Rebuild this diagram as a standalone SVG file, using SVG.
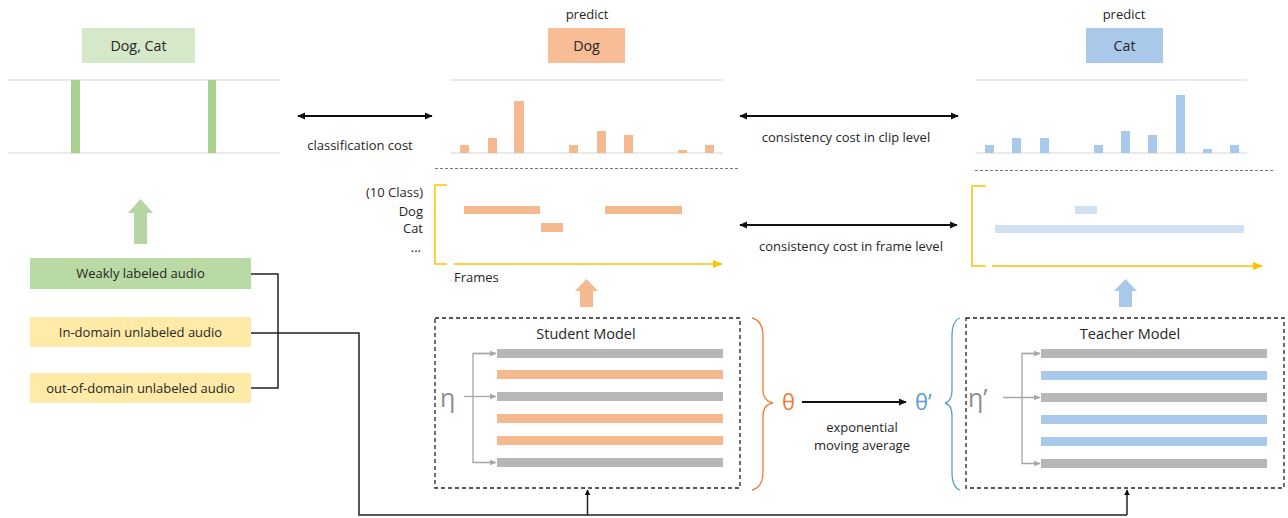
<svg xmlns="http://www.w3.org/2000/svg" width="1288" height="518" viewBox="0 0 1288 518">
<style>
text{font-family:"Open Sans","Noto Sans","DejaVu Sans",sans-serif;fill:#262626;font-size:13px}
.c{text-anchor:middle}
.r{text-anchor:end}
.lb{font-size:14.3px}
.md{font-size:14.5px}
.sym{font-size:25px;fill:#8c8c8c}
.th{font-size:22px}
.axis{stroke:#e3e3e3;stroke-width:1.5}
.dash{stroke:#777;stroke-width:1;stroke-dasharray:3,2}
.box{fill:none;stroke:#222;stroke-width:1.3;stroke-dasharray:4,3}
.ln{stroke:#222;stroke-width:1.5;fill:none}
.la{stroke:#111;stroke-width:1.8;fill:none}
.gl{stroke:#a6a6a6;stroke-width:1.3;fill:none}
.yb{stroke:#ffc000;stroke-width:1.5;fill:none}
.og{fill:#f4b98f}
.bl{fill:#a9c9ea}
.gr{fill:#b7b7b7}
.gb{fill:#a9d18e}
</style>
<defs>
<marker id="ah" viewBox="0 0 10 10" refX="9" refY="5" markerWidth="8" markerHeight="8" orient="auto-start-reverse" markerUnits="userSpaceOnUse"><path d="M0,0.5L10,5L0,9.5z" fill="#111"/></marker>
<marker id="ahs" viewBox="0 0 10 10" refX="9" refY="5" markerWidth="6" markerHeight="6" orient="auto" markerUnits="userSpaceOnUse"><path d="M0,0L10,5L0,10z" fill="#111"/></marker>
<marker id="ag" viewBox="0 0 10 10" refX="9" refY="5" markerWidth="7" markerHeight="7" orient="auto" markerUnits="userSpaceOnUse"><path d="M0,1L10,5L0,9z" fill="#a6a6a6"/></marker>
<marker id="ay" viewBox="0 0 10 10" refX="9" refY="5" markerWidth="10" markerHeight="10" orient="auto" markerUnits="userSpaceOnUse"><path d="M0,1L10,5L0,9z" fill="#ffc000"/></marker>
</defs>

<g id="label-ground-truth">
<rect x="82" y="28" width="113" height="35" fill="#d5e8c9"/>
<text class="c lb" x="138.5" y="51">Dog, Cat</text>
<line class="axis" x1="8" y1="80" x2="280" y2="80"/>
<line class="axis" x1="8" y1="153" x2="280" y2="153"/>
<rect class="gb" x="71" y="80" width="9" height="73"/>
<rect class="gb" x="208" y="80" width="8" height="73"/>
</g>

<g id="student-clip">
<text class="c" x="587" y="19">predict</text>
<rect x="548" y="28" width="77" height="35" fill="#f8bd96"/>
<text class="c lb" x="586.5" y="51">Dog</text>
<line class="axis" x1="451" y1="80" x2="723" y2="80"/>
<line class="axis" x1="451" y1="153" x2="723" y2="153"/>
<rect class="og" x="460" y="145" width="9" height="8"/>
<rect class="og" x="488" y="138" width="9" height="15"/>
<rect class="og" x="514" y="101" width="10" height="52"/>
<rect class="og" x="569" y="145" width="9" height="8"/>
<rect class="og" x="597" y="131" width="9" height="22"/>
<rect class="og" x="624" y="135" width="9" height="18"/>
<rect class="og" x="678" y="150" width="9" height="3"/>
<rect class="og" x="705" y="145" width="9" height="8"/>
</g>

<g id="teacher-clip">
<text class="c" x="1124" y="19">predict</text>
<rect x="1086" y="28" width="77" height="35" fill="#aac9ea"/>
<text class="c lb" x="1124.5" y="51">Cat</text>
<line class="axis" x1="976" y1="80" x2="1247" y2="80"/>
<line class="axis" x1="976" y1="153" x2="1247" y2="153"/>
<rect class="bl" x="985" y="145" width="9" height="8"/>
<rect class="bl" x="1012" y="138" width="9" height="15"/>
<rect class="bl" x="1040" y="138" width="9" height="15"/>
<rect class="bl" x="1094" y="145" width="9" height="8"/>
<rect class="bl" x="1121" y="131" width="9" height="22"/>
<rect class="bl" x="1148" y="135" width="9" height="18"/>
<rect class="bl" x="1176" y="95" width="9" height="58"/>
<rect class="bl" x="1203" y="149" width="9" height="4"/>
<rect class="bl" x="1230" y="145" width="9" height="8"/>
</g>

<g id="separators">
<line class="dash" x1="435" y1="168.5" x2="738" y2="168.5"/>
<line class="dash" x1="975" y1="170.5" x2="1273" y2="170.5"/>
</g>

<g id="student-frame">
<polyline class="yb" points="447,185 435,185 435,264 447,264"/>
<line class="yb" x1="454" y1="264" x2="722" y2="264" marker-end="url(#ay)"/>
<text class="r" x="423" y="197">(10 Class)</text>
<text class="r" x="423" y="216">Dog</text>
<text class="r" x="423" y="233">Cat</text>
<text class="r" x="421" y="252">...</text>
<text x="454" y="282">Frames</text>
<rect class="og" x="464" y="206" width="76" height="8"/>
<rect class="og" x="605" y="206" width="77" height="8"/>
<rect class="og" x="541" y="223" width="22" height="9"/>
</g>

<g id="teacher-frame">
<polyline class="yb" points="986,186 972,186 972,266 986,266"/>
<line class="yb" x1="992" y1="266" x2="1262" y2="266" marker-end="url(#ay)"/>
<rect x="1075" y="206" width="22" height="8" fill="#cfe0f3"/>
<rect x="995" y="225" width="249" height="8" fill="#cfe0f3"/>
</g>

<g id="up-arrows">
<path d="M134,244V213H128L140.5,199L153,213H147V244Z" fill="#b5d6a2"/>
<path d="M580,307V291H575L586.5,279L598,291H593V307Z" fill="#f4b98f"/>
<path d="M1119,307V291H1114L1125.5,279L1137,291H1132V307Z" fill="#a9c9ea"/>
</g>

<g id="weakly-labeled">
<rect x="30" y="258" width="221" height="31" fill="#b9d9a5"/>
<text class="c" x="140.5" y="278">Weakly labeled audio</text>
</g>
<g id="in-domain">
<rect x="30" y="317" width="221" height="30" fill="#ffeaa8"/>
<text class="c" x="140.5" y="337">In-domain unlabeled audio</text>
</g>
<g id="out-of-domain">
<rect x="30" y="373" width="221" height="30" fill="#ffeaa8"/>
<text class="c" x="140.5" y="393">out-of-domain unlabeled audio</text>
</g>

<g id="student-model">
<rect class="box" x="435" y="318" width="305" height="170"/>
<text class="c md" x="586" y="339">Student Model</text>
<rect class="gr" x="497" y="349" width="226" height="9"/>
<rect class="og" x="497" y="370" width="226" height="9"/>
<rect class="gr" x="497" y="392" width="226" height="9"/>
<rect class="og" x="497" y="414" width="226" height="9"/>
<rect class="og" x="497" y="436" width="226" height="9"/>
<rect class="gr" x="497" y="458" width="226" height="9"/>
<text class="sym" x="440" y="407">η</text>
<path class="gl" d="M496,353.5H473V462.5H496" marker-end="url(#ag)"/>
<line class="gl" x1="473" y1="353.5" x2="496" y2="353.5" marker-end="url(#ag)"/>
<line class="gl" x1="464" y1="396.5" x2="496" y2="396.5" marker-end="url(#ag)"/>
</g>

<g id="teacher-model">
<rect class="box" x="966" y="318" width="318" height="170"/>
<text class="c md" x="1130" y="339">Teacher Model</text>
<rect class="gr" x="1041" y="349" width="226" height="9"/>
<rect class="bl" x="1041" y="371" width="226" height="9"/>
<rect class="gr" x="1041" y="393" width="226" height="9"/>
<rect class="bl" x="1041" y="415" width="226" height="9"/>
<rect class="bl" x="1041" y="437" width="226" height="9"/>
<rect class="gr" x="1041" y="459" width="226" height="9"/>
<text class="sym" x="968" y="407">η’</text>
<path class="gl" d="M1040,353.5H1022V463.5H1040" marker-end="url(#ag)"/>
<line class="gl" x1="1022" y1="353.5" x2="1040" y2="353.5" marker-end="url(#ag)"/>
<line class="gl" x1="1003" y1="397.5" x2="1040" y2="397.5" marker-end="url(#ag)"/>
</g>

<g id="ema">
<path d="M752,318C760,320 763,326 763,336V390C763,398 767,402 773,403C767,404 763,408 763,416V472C763,482 760,488 752,490" fill="none" stroke="#ed7d31" stroke-width="1.3"/>
<text class="th" x="782" y="410" style="fill:#ed7d31">θ</text>
<path d="M960,318C954,320 952,326 952,336V390C952,398 949,402 945,403C949,404 952,408 952,416V472C952,482 954,488 960,490" fill="none" stroke="#5b9bd5" stroke-width="1.3"/>
<text class="th" x="915" y="410" style="fill:#5b9bd5">θ’</text>
<text class="c" x="862" y="432">exponential</text>
<text class="c" x="862" y="450">moving average</text>
</g>

<g id="connectors">
<line class="la" x1="298" y1="116" x2="432" y2="116" marker-start="url(#ah)" marker-end="url(#ah)"/>
<line class="la" x1="740" y1="116" x2="958" y2="116" marker-start="url(#ah)" marker-end="url(#ah)"/>
<line class="la" x1="740" y1="225" x2="957" y2="225" marker-start="url(#ah)" marker-end="url(#ah)"/>
<line class="la" x1="802" y1="402" x2="906" y2="402" marker-end="url(#ah)"/>
<polyline class="ln" points="251,274 278,274 278,388 251,388"/>
<polyline class="ln" points="251,333 359,333 359,515 1127,515"/>
<line class="ln" x1="587.5" y1="515" x2="587.5" y2="490" marker-end="url(#ahs)"/>
<line class="ln" x1="1127" y1="515" x2="1127" y2="490" marker-end="url(#ahs)"/>
<text class="c" x="360" y="150">classification cost</text>
<text class="c" x="846" y="142">consistency cost in clip level</text>
<text class="c" x="851" y="251">consistency cost in frame level</text>
</g>
</svg>
